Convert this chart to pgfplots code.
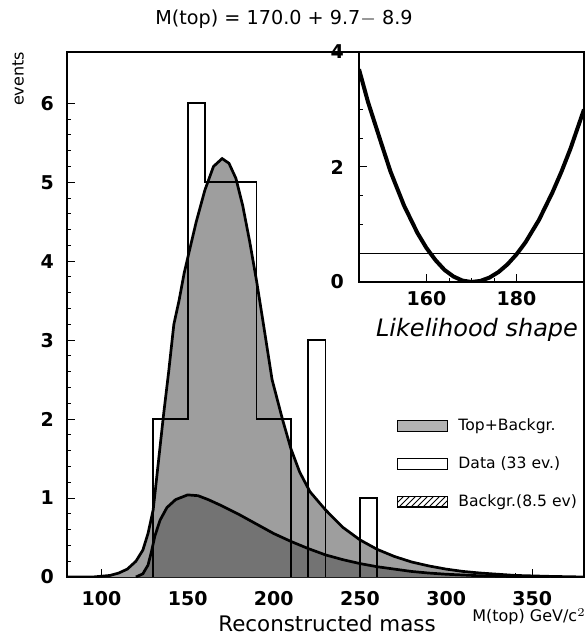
\documentclass[border=0pt]{standalone}
\usepackage{fontspec}
\setmainfont{DejaVu Sans}
\usepackage{pgfplots}
\pgfplotsset{compat=1.18}
\usetikzlibrary{patterns}

\begin{document}
\begin{tikzpicture}
\begin{axis}[
  at={(0,0)}, anchor=south west,
  scale only axis, width=258.5pt, height=262.5pt,
  xmin=80, xmax=380, ymin=0, ymax=6.65,
  xtick={100,150,...,350}, ytick={0,1,...,6},
  minor x tick num=4, minor y tick num=4,
  tick pos=left, tick align=inside,
  major tick length=4pt, minor tick length=2pt,
  every tick/.style={black, line width=0.5pt},
  axis line style={line width=0.6pt},
  ticklabel style={font=\fontsize{9.5}{11}\selectfont\bfseries},
  /pgf/number format/assume math mode=true,
  xticklabel style={inner sep=1pt, yshift=-5.8pt},
  yticklabel style={xshift=-3pt},
  legend style={draw=none, fill=none, at={(0.638,0.31)}, anchor=north west,
    font=\fontsize{7.8}{9}\selectfont, row sep=7.5pt, inner sep=0pt,
    nodes={inner xsep=5pt}},
  legend cell align=left,
  legend image code/.code={\draw[#1] (0pt,-2.6pt) rectangle (25pt,2.6pt);},
]
% Top + background area
\addplot[draw=none, fill=black!38, forget plot] coordinates {
(80,0)(95,0)(100,0.01)(105,0.02)(110,0.05)(115,0.1)(120,0.2)(124,0.34)(127,0.55)(130,0.85)(133,1.45)(136,2.05)(139,2.6)(142,3.2)(145,3.5)(148,3.85)(151,4.13)(155,4.5)(160,4.9)(165,5.2)(170,5.3)(174,5.24)(178,5.05)(182,4.7)(186,4.25)(190,3.75)(194,3.2)(199,2.5)(205,2.0)(210,1.62)(215,1.33)(221,1.08)(230,0.85)(240,0.63)(250,0.47)(260,0.35)(270,0.26)(280,0.19)(290,0.14)(300,0.1)(310,0.07)(320,0.05)(340,0.02)(360,0.008)(380,0)
} \closedcycle;
% background area
\addplot[draw=none, fill=black!55, forget plot] coordinates {
(120,0)(124,0.04)(127,0.15)(129,0.32)(131,0.52)(134,0.72)(138,0.88)(143,0.98)(150,1.04)(156,1.03)(162,0.98)(170,0.9)(180,0.79)(190,0.67)(200,0.55)(210,0.45)(220,0.36)(230,0.28)(240,0.22)(250,0.17)(260,0.13)(270,0.1)(280,0.07)(290,0.05)(300,0.035)(320,0.015)(340,0.005)(360,0)
} \closedcycle;
% curves
\addplot[black, line width=1.35pt, forget plot] coordinates {
(80,0)(95,0)(100,0.01)(105,0.02)(110,0.05)(115,0.1)(120,0.2)(124,0.34)(127,0.55)(130,0.85)(133,1.45)(136,2.05)(139,2.6)(142,3.2)(145,3.5)(148,3.85)(151,4.13)(155,4.5)(160,4.9)(165,5.2)(170,5.3)(174,5.24)(178,5.05)(182,4.7)(186,4.25)(190,3.75)(194,3.2)(199,2.5)(205,2.0)(210,1.62)(215,1.33)(221,1.08)(230,0.85)(240,0.63)(250,0.47)(260,0.35)(270,0.26)(280,0.19)(290,0.14)(300,0.1)(310,0.07)(320,0.05)(340,0.02)(360,0.008)(380,0)
};
\addplot[black, line width=1.35pt, forget plot] coordinates {
(120,0)(124,0.04)(127,0.15)(129,0.32)(131,0.52)(134,0.72)(138,0.88)(143,0.98)(150,1.04)(156,1.03)(162,0.98)(170,0.9)(180,0.79)(190,0.67)(200,0.55)(210,0.45)(220,0.36)(230,0.28)(240,0.22)(250,0.17)(260,0.13)(270,0.1)(280,0.07)(290,0.05)(300,0.035)(320,0.015)(340,0.005)(360,0)
};
% data histogram outline
\addplot[black, line width=0.9pt, forget plot] coordinates {
(130,0)(130,2)(150,2)(150,6)(160,6)(160,5)(190,5)(190,2)(210,2)(210,0)
};
\addplot[black, line width=0.9pt, forget plot] coordinates {(220,0)(220,3)(230,3)(230,0)};
\addplot[black, line width=0.9pt, forget plot] coordinates {(250,0)(250,1)(260,1)(260,0)};
% legend
\addlegendimage{draw=black, line width=0.6pt, fill=black!30}
\addlegendentry{Top+Backgr.}
\addlegendimage{draw=black, line width=0.6pt, fill=white}
\addlegendentry{Data (33 ev.)}
\addlegendimage{draw=black, line width=0.6pt, pattern=north east lines}
\addlegendentry{Backgr.(8.5 ev)}
\end{axis}

% inset
\begin{axis}[
  at={(146pt,147.5pt)}, anchor=south west,
  scale only axis, width=112.5pt, height=115pt,
  xmin=145, xmax=195, ymin=0, ymax=4,
  xtick={160,180}, ytick={0,2,4},
  minor x tick num=3, minor y tick num=3,
  tick pos=left, tick align=inside,
  major tick length=4pt, minor tick length=2pt,
  every tick/.style={black, line width=0.5pt},
  axis line style={line width=0.7pt},
  axis background/.style={fill=white},
  ticklabel style={font=\fontsize{9.5}{11}\selectfont\bfseries},
  /pgf/number format/assume math mode=true,
  yticklabel style={xshift=-4pt},
  xticklabel style={yshift=-1pt},
]
\addplot[black, line width=2pt] coordinates {
(145,3.70)(147,3.13)(150,2.4)(152,1.92)(155,1.33)(158,0.85)(160,0.59)(162,0.38)(164,0.21)(166,0.095)(168,0.024)(170,0)(172,0.019)(174,0.077)(176,0.173)(178,0.307)(180,0.48)(182,0.69)(185,1.08)(188,1.56)(190,1.92)(192,2.32)(195,3.0)
};
\addplot[black, line width=0.6pt] coordinates {(145,0.5)(195,0.5)};
\end{axis}

\node[font=\fontsize{9.6}{11}\selectfont] at (108.5pt,279pt) {M(top) = 170.0 + 9.7$-$ 8.9};
\node[font=\fontsize{8}{9}\selectfont, rotate=90] at (-24.5pt,249pt) {events};
\node[font=\fontsize{10.7}{12}\selectfont] at (130pt,-23.5pt) {Reconstructed mass};
\node[font=\fontsize{8}{9.5}\selectfont, anchor=north east, inner sep=0pt] at (259.5pt,-15.6pt) {M(top) GeV/c$^2$};
\node[font=\fontsize{12}{14}\selectfont\itshape] at (205pt,123.5pt) {Likelihood shape};

\pgfresetboundingbox
\useasboundingbox (-33.5pt,-29.5pt) rectangle (259.5pt,288.5pt);
\end{tikzpicture}
\end{document}
